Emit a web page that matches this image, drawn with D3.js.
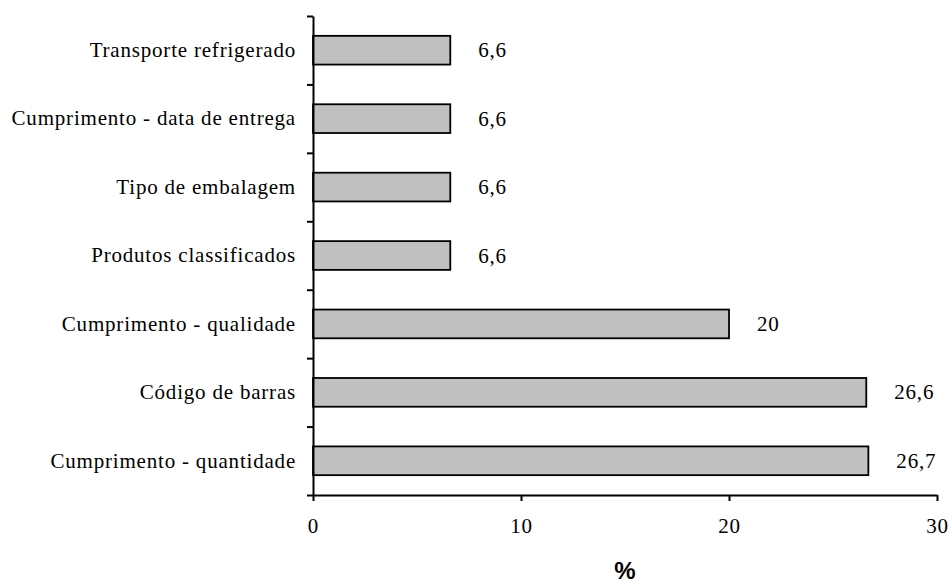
<!DOCTYPE html>
<html>
<head>
<meta charset="utf-8">
<script src="https://cdn.jsdelivr.net/npm/d3@7"></script>
<style>
  body { margin: 0; background: #fff; }
  svg { display: block; }
  .eixo path, .eixo line { stroke: #000; stroke-width: 2; }
</style>
</head>
<body>
<div id="graf"></div>
<script>
const categorias = [
  'Transporte refrigerado',
  'Cumprimento - data de entrega',
  'Tipo de embalagem',
  'Produtos classificados',
  'Cumprimento - qualidade',
  'Código de barras',
  'Cumprimento - quantidade'
]
const valores = [6.6, 6.6, 6.6, 6.6, 20, 26.6, 26.7]
const rotulos = ['6,6', '6,6', '6,6', '6,6', '20', '26,6', '26,7']
const ticksX = [0, 10, 20, 30]

const anchoTotal = 952
const altoTotal = 584
const margins = { left: 313, top: 16, right: 15, bottom: 89 }
const ancho = anchoTotal - margins.left - margins.right
const alto = altoTotal - margins.top - margins.bottom

const svg = d3.select('#graf')
  .append('svg')
  .attr('width', anchoTotal)
  .attr('height', altoTotal)

const g = svg.append('g')
  .attr('transform', `translate(${margins.left}, ${margins.top})`)

const x = d3.scaleLinear().domain([0, 30]).range([0, ancho])
const y = d3.scaleBand().domain(categorias).range([0, alto])
  .paddingInner(0.58).paddingOuter(0.29)
// escala auxiliar para os tracos entre categorias
const yIdx = d3.scaleLinear().domain([0, categorias.length]).range([0, alto])

const estiloTexto = sel => sel
  .style('font-family', "'Liberation Serif'")
  .style('font-size', '21px')
  .style('letter-spacing', '0.8px')
  .style('fill', '#000')

// barras
g.selectAll('rect')
  .data(valores)
  .enter()
  .append('rect')
  .attr('x', 0)
  .attr('y', (d, i) => y(categorias[i]))
  .attr('width', d => x(d))
  .attr('height', y.bandwidth())
  .attr('fill', '#c0c0c0')
  .attr('stroke', '#000')
  .attr('stroke-width', 1.8)

// valores
g.selectAll('.valor')
  .data(valores)
  .enter()
  .append('text')
  .attr('class', 'valor')
  .attr('x', d => x(d) + 28)
  .attr('y', (d, i) => y(categorias[i]) + y.bandwidth() / 2 + 7)
  .text((d, i) => rotulos[i])
  .call(estiloTexto)

// eixo y (tracos)
g.append('g')
  .attr('class', 'eixo')
  .call(d3.axisLeft(yIdx).ticks(categorias.length).tickSize(6).tickSizeOuter(0).tickFormat(''))

// eixo y (categorias)
const eixoCat = g.append('g')
  .call(d3.axisLeft(y).tickSize(0).tickPadding(17))
eixoCat.select('.domain').remove()
eixoCat.selectAll('text')
  .attr('dy', '0.32em')
  .call(estiloTexto)

// eixo x
const eixoX = g.append('g')
  .attr('class', 'eixo')
  .attr('transform', `translate(0, ${alto})`)
  .call(d3.axisBottom(x).tickValues(ticksX).tickSize(6).tickSizeOuter(0).tickPadding(17))
eixoX.selectAll('text')
  .call(estiloTexto)

svg.append('text')
  .attr('x', margins.left + ancho / 2)
  .attr('y', 579)
  .attr('text-anchor', 'middle')
  .style('font-family', "'Liberation Sans'")
  .style('font-size', '24px')
  .style('font-weight', 'bold')
  .text('%')
</script>
</body>
</html>
